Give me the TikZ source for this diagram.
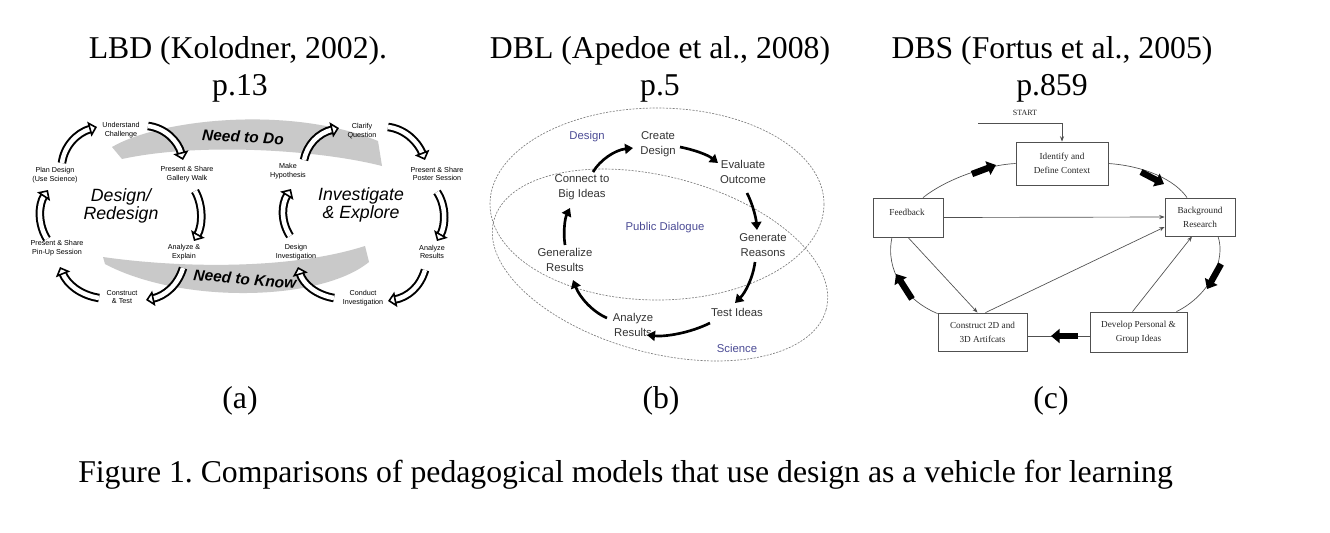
\documentclass[tikz,border=0pt]{standalone}
\usepackage{fontspec}
\setmainfont{Liberation Serif}
\setsansfont{Liberation Sans}
\usetikzlibrary{arrows.meta,calc}
\definecolor{swoosh}{HTML}{C9C9C9}
\definecolor{dblblue}{HTML}{4B4B95}
\definecolor{dbltext}{HTML}{333333}
\definecolor{cline}{HTML}{505050}
\newcommand\hollowarc[1]{\draw[band] #1; \draw[bandtip] #1;}
\frenchspacing
\begin{document}
\begin{tikzpicture}[x=0.75pt,y=-0.75pt,
  title/.style={font=\fontsize{23.8}{27}\selectfont, inner sep=0pt, anchor=base},
  alab/.style={font=\sffamily\fontsize{5.4}{6.4}\selectfont, align=center, inner sep=0pt},
  abig/.style={font=\sffamily\itshape\fontsize{13.3}{13.5}\selectfont, align=center, inner sep=0pt},
  aneed/.style={font=\sffamily\bfseries\itshape\fontsize{11.6}{12}\selectfont, inner sep=0pt},
  band/.style={line width=1.5pt, double=white, double distance=3.4pt, shorten >=5pt},
  bandtip/.style={white, line width=0.4pt, -{Triangle[color=black, fill=white, width=11.5pt, length=6pt, line width=1.2pt]}},
  blab/.style={font=\sffamily\fontsize{8.5}{11.25}\selectfont, align=center, inner sep=1pt, text=dbltext},
  bblue/.style={blab, text=dblblue},
  barr/.style={line width=2pt, -{Triangle[width=7.5pt, length=6pt]}},
  bell/.style={dash pattern=on 1.5pt off 1pt, gray, line width=0.5pt},
  cbox/.style={draw=cline, line width=0.6pt, fill=white, inner sep=0pt, font=\fontsize{6.9}{10.5}\selectfont, align=center, text=black!85},
  ctext/.style={font=\fontsize{6.9}{10.5}\selectfont, align=center, inner sep=0pt, text=black!85},
  cthin/.style={draw=cline, line width=0.5pt, -{Stealth[length=4pt, width=3pt]}},
  ccurve/.style={draw=cline, line width=0.5pt},
  cblk/.style={line width=4.8pt, -{Triangle[width=10.5pt, length=6.5pt]}},
]
\useasboundingbox (0,0) rectangle (1330,532);
\fill[white] (0,0) rectangle (1330,532);

% ---------- titles ----------
\node[title] (ta1) at (238,58) {LBD (Kolodner, 2002).};
\node[title] (ta2) at (240,95) {p.13};
\node[title] (tb1) at (660,58) {DBL (Apedoe et al., 2008)};
\node[title] (tb2) at (660,95) {p.5};
\node[title] (tc1) at (1052,58) {DBS (Fortus et al., 2005)};
\node[title] (tc2) at (1052,95) {p.859};
\node[title] (la) at (240,408) {(a)};
\node[title] (lb) at (661,408) {(b)};
\node[title] (lc) at (1051,408) {(c)};
\node[title, anchor=base west] (cap) at (78,482) {Figure 1. Comparisons of pedagogical models that use design as a vehicle for learning};

% ---------- panel (a) ----------
\fill[swoosh] (112,147) .. controls (160,119) and (290,105) .. (378,141)
  -- (382,166) .. controls (320,150) and (200,142) .. (122,159) -- cycle;
\fill[swoosh] (103,257) .. controls (180,268) and (290,270) .. (365,246)
  -- (369,262) .. controls (320,302) and (180,304) .. (105,264) -- cycle;
\node[aneed, rotate=-3] (ntd) at (243,137) {Need to Do};
\node[aneed, rotate=-5] (ntk) at (245,279) {Need to Know};

\node[alab] (uc) at (121,130) {Understand\\Challenge};
\node[alab] (gw) at (187,174) {Present \& Share\\Gallery Walk};
\node[alab] (ae) at (184,252) {Analyze \&\\Explain};
\node[alab] (ct) at (122,297) {Construct\\\& Test};
\node[alab] (pu) at (57,248) {Present \& Share\\Pin-Up Session};
\node[alab] (pl) at (55,175) {Plan Design\\(Use Science)};
\node[abig] (dr) at (121,206) {Design/\\Redesign};

\node[alab] (cq) at (362,131) {Clarify\\Question};
\node[alab] (ps) at (437,174) {Present \& Share\\Poster Session};
\node[alab] (rs) at (432,252) {Analyze\\Results};
\node[alab] (ci) at (363,298) {Conduct\\Investigation};
\node[alab] (di) at (296,252) {Design\\Investigation};
\node[alab] (mh) at (288,171) {Make\\Hypothesis};
\node[abig] (ie) at (361,205) {Investigate\\\& Explore};

\hollowarc{(62,163) .. controls (64,147) and (76,133) .. (97,127)}
\hollowarc{(148,126) .. controls (165,128) and (178,141) .. (183,160)}
\hollowarc{(195,191) .. controls (203,205) and (203,225) .. (194,241)}
\hollowarc{(183,268) .. controls (178,285) and (165,296) .. (146,300)}
\hollowarc{(99,298) .. controls (80,295) and (67,284) .. (60,267)}
\hollowarc{(47,239) .. controls (38,225) and (38,205) .. (48,190)}

\hollowarc{(304,160) .. controls (307,145) and (318,133) .. (339,128)}
\hollowarc{(388,127) .. controls (405,129) and (418,142) .. (425,160)}
\hollowarc{(437,192) .. controls (446,205) and (446,225) .. (437,241)}
\hollowarc{(425,270) .. controls (420,287) and (408,297) .. (388,301)}
\hollowarc{(334,298) .. controls (316,295) and (303,284) .. (298,267)}
\hollowarc{(290,236) .. controls (281,222) and (281,205) .. (291,189)}

% ---------- panel (b) ----------
\draw[bell] (657,204) ellipse [x radius=167, y radius=96];
\draw[bell, rotate around={-15:(660,265)}] (660,265) ellipse [x radius=172, y radius=88];

\node[bblue] (dz) at (587,137) {Design};
\node[blab] (cd) at (658,144) {Create\\Design};
\node[blab] (eo) at (743,172) {Evaluate\\Outcome};
\node[blab] (cb) at (582,187) {Connect to\\Big Ideas};
\node[bblue] (pd) at (665,228) {Public Dialogue};
\node[blab] (gr) at (763,245) {Generate\\Reasons};
\node[blab] (gz) at (565,260) {Generalize\\Results};
\node[blab] (ti) at (737,312) {Test Ideas};
\node[blab] (ar) at (633,325) {Analyze\\Results};
\node[bblue] (sc) at (737,348) {Science};

\draw[barr] ($(cb)+(11,-15)$) .. controls (600,160) and (615,150) .. ($(cd)+(-25,4)$);
\draw[barr] ($(cd)+(22,3)$) .. controls (695,150) and (708,155) .. ($(eo)+(-25,-9)$);
\draw[barr] ($(eo)+(4,21)$) .. controls (753,205) and (756,218) .. ($(gr)+(-6,-15)$);
\draw[barr] ($(gr)+(-8,17)$) .. controls (753,278) and (745,293) .. ($(ti)+(-2,-9)$);
\draw[barr] ($(ti)+(-27,11)$) .. controls (690,333) and (665,337) .. ($(ar)+(14,10)$);
\draw[barr] ($(ar)+(-26,-7)$) .. controls (593,312) and (580,298) .. ($(gz)+(8,20)$);
\draw[barr] ($(gz)+(0,-15)$) .. controls (563,232) and (565,218) .. ($(cb)+(-12,21)$);

% ---------- panel (c) ----------
\node[cbox, minimum width=69pt, minimum height=32.25pt] (id) at (1062,163.5) {Identify and\\Define Context};
\node[cbox, minimum width=52.5pt, minimum height=29.25pt] (fb) at (908,217.5) {};
\node[ctext] (fbt) at (907,212) {Feedback};
\node[cbox, minimum width=52.5pt, minimum height=28.5pt] (bg) at (1200,217) {Background\\Research};
\node[cbox, minimum width=72.75pt, minimum height=30pt] (dv) at (1138.5,332) {Develop Personal \&\\Group Ideas};
\node[cbox, minimum width=66.75pt, minimum height=28.5pt] (cs) at (982.5,332) {Construct 2D and\\3D Artifcats};
\node[ctext, font=\fontsize{6}{7}\selectfont] (st) at (1025,113) {START};
\coordinate (s0) at (978,123);
\draw[cthin] (s0) -| (id.north);

\draw[ccurve] ($(fb.north)+(15,0)$) .. controls (945,180) and (985,165) .. (id.west);
\draw[ccurve] (id.east) .. controls (1145,166) and (1175,180) .. ($(bg.north)+(-13,0)$);
\draw[ccurve] ($(bg.south)+(18,0)$) .. controls (1226,260) and (1210,295) .. ($(dv.north)+(38,0)$);
\draw[ccurve] ($(dv.west)+(0,4)$) -- ($(cs.east)+(0,4)$);
\draw[ccurve] ($(cs.north west)+(0,1)$) .. controls (905,300) and (885,270) .. ($(fb.south)+(-16,0)$);

\draw[cthin] (fb.east) -- (bg.west);
\draw[cthin] (fb.south) -- ($(cs.north)+(-5,0)$);
\draw[cthin] ($(cs.north)+(3,0)$) -- ($(bg.west)+(0,10)$);
\draw[cthin] ($(dv.north)+(-6,0)$) -- ($(bg.south)+(-8,0)$);

\draw[cblk] (972,174) -- (996,165);
\draw[cblk] (1141,172) -- (1164,184);
\draw[cblk] (1221,264) -- (1207,289);
\draw[cblk] (1078,336) -- (1051,336);
\draw[cblk] (912,299) -- (896,274);
\end{tikzpicture}
\end{document}
